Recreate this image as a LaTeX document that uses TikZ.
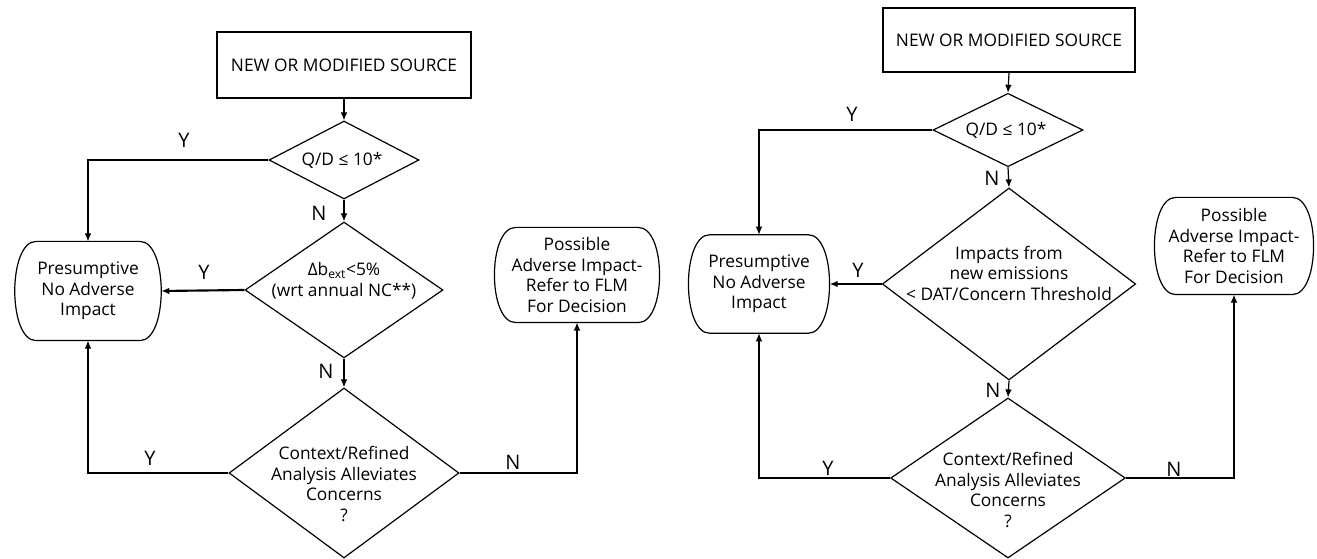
\documentclass[tikz,border=0pt]{standalone}
\usepackage{fontspec}
\setmainfont{Open Sans}
\usetikzlibrary{shapes.geometric,arrows.meta}

% outline of the rounded end boxes
\newcommand\termline[1]{%
  \draw ([xshift=16pt]#1.north west) -- ([xshift=-16pt]#1.north east)
    .. controls ([xshift=5.3pt]#1.north east) and ([xshift=5.3pt]#1.south east) .. ([xshift=-16pt]#1.south east)
    -- ([xshift=16pt]#1.south west)
    .. controls ([xshift=-5.3pt]#1.south west) and ([xshift=-5.3pt]#1.north west) .. cycle;}

\begin{document}
\begin{tikzpicture}[x=0.75pt,y=-0.75pt,line width=0.9pt,
  txt/.style={align=center,inner sep=0pt,font=\fontsize{13}{15.4}\selectfont},
  srcbox/.style={draw,rectangle,txt},
  dia/.style={draw,diamond,inner sep=0pt},
  term/.style={txt},
  lab/.style={inner sep=0pt,font=\fontsize{15}{18}\selectfont},
  arr/.style={-{Latex[length=6pt,width=5pt]}},
  yarr/.style={arr,line width=1.6pt}]
\useasboundingbox (0,0) rectangle (1317,559);

% left chart
\node[srcbox,minimum width=190.5pt,minimum height=49.5pt] (src1) at (344,65) {NEW OR MODIFIED SOURCE};
\node[dia,minimum width=112.5pt,minimum height=58.5pt] (q1) at (344,160) {};
\node[txt] (q1t) at (342,160) {Q/D ≤ 10*};
\node[dia,minimum width=148.5pt,minimum height=102pt] (dl1) at (344,290) {};
\node[txt] (dl1t) at (344,281) {Δb\textsubscript{ext}<5\%\\(wrt annual NC**)};
\node[dia,minimum width=172.5pt,minimum height=127.5pt] (cc1) at (344,473) {};
\node[txt] (cc1t) at (344,484) {Context/Refined\\Analysis Alleviates\\Concerns\\?};
\node[term,minimum width=109pt,minimum height=73.5pt] (pna1) at (88,291) {Presumptive\\No Adverse\\Impact};
\node[term,minimum width=123pt,minimum height=70.5pt] (pai1) at (577,275) {Possible\\Adverse Impact-\\Refer to FLM\\For Decision};
\termline{pna1}
\termline{pai1}

\draw[arr] (src1.south) -- (q1.north);
\draw[arr] (q1.west) -| (pna1.north);
\draw[arr] (q1.south) -- (dl1.north);
\draw[yarr] (dl1.west) -- (pna1.east);
\draw[arr] (dl1.south) -- (cc1.north);
\draw[arr] (cc1.west) -| (pna1.south);
\draw[arr] (cc1.east) -| (pai1.south);

\node[lab] (y11) at (184,140) {Y};
\node[lab] (n11) at (319,213) {N};
\node[lab] (y12) at (204,272) {Y};
\node[lab] (n12) at (326,371) {N};
\node[lab] (y13) at (150,458) {Y};
\node[lab] (n13) at (513,462) {N};

% right chart
\node[srcbox,minimum width=189pt,minimum height=48pt] (src2) at (1009,40) {NEW OR MODIFIED SOURCE};
\node[dia,minimum width=112.5pt,minimum height=55pt] (q2) at (1008,130) {};
\node[txt] (q2t) at (1006,130) {Q/D ≤ 10*};
\node[dia,minimum width=190pt,minimum height=144pt] (im2) at (1009,284) {};
\node[txt] (im2t) at (1009,273) {Impacts from\\new emissions\\< DAT/Concern Threshold};
\node[dia,minimum width=176pt,minimum height=120pt] (cc2) at (1008,478) {};
\node[txt] (cc2t) at (1008,490) {Context/Refined\\Analysis Alleviates\\Concerns\\?};
\node[term,minimum width=105pt,minimum height=73pt] (pna2) at (759,284) {Presumptive\\No Adverse\\Impact};
\node[term,minimum width=118.5pt,minimum height=72pt] (pai2) at (1234,246) {Possible\\Adverse Impact-\\Refer to FLM\\For Decision};
\termline{pna2}
\termline{pai2}

\draw[arr] (src2.south) -- (q2.north);
\draw[arr] (q2.west) -| (pna2.north);
\draw[arr] (q2.south) -- (im2.north);
\draw[yarr] (im2.west) -- (pna2.east);
\draw[arr] (im2.south) -- (cc2.north);
\draw[arr] (cc2.west) -| (pna2.south);
\draw[arr] (cc2.east) -| (pai2.south);

\node[lab] (y21) at (852,114) {Y};
\node[lab] (n21) at (992,178) {N};
\node[lab] (y22) at (858,270) {Y};
\node[lab] (n22) at (993,390) {N};
\node[lab] (y23) at (828,468) {Y};
\node[lab] (n23) at (1174,469) {N};
\end{tikzpicture}
\end{document}
